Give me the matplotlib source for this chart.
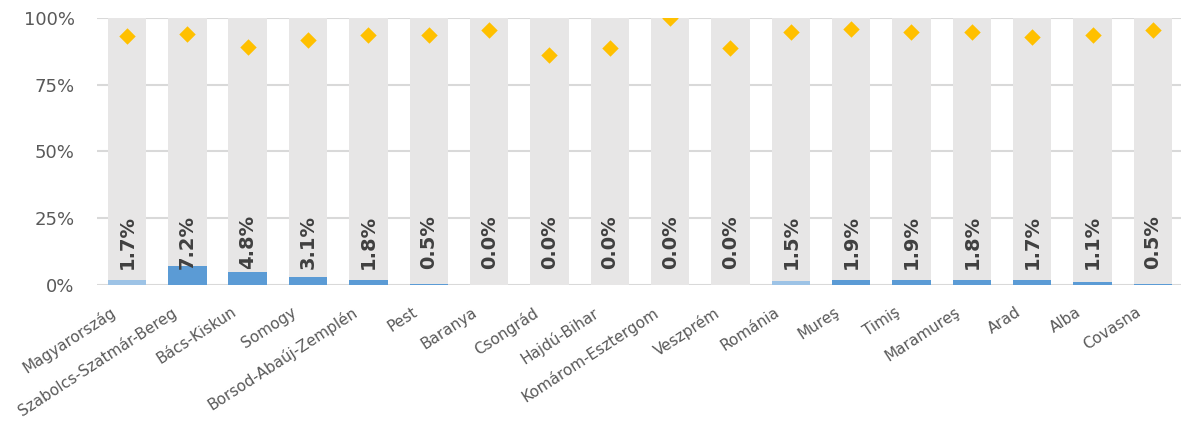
import matplotlib.pyplot as plt
import matplotlib.transforms as mtransforms
import numpy as np

counties = ["Magyarország", "Szabolcs-Szatmár-Bereg", "Bács-Kiskun", "Somogy",
            "Borsod-Abaúj-Zemplén", "Pest", "Baranya", "Csongrád", "Hajdú-Bihar",
            "Komárom-Esztergom", "Veszprém", "Románia", "Mureş", "Timiş",
            "Maramureş", "Arad", "Alba", "Covasna"]
share = [1.7, 7.2, 4.8, 3.1, 1.8, 0.5, 0.0, 0.0, 0.0, 0.0, 0.0,
         1.5, 1.9, 1.9, 1.8, 1.7, 1.1, 0.5]
marker_vals = [93.3, 94.0, 89.3, 91.8, 93.6, 93.6, 95.5, 86.0, 88.8, 100.0, 88.8,
               94.8, 95.9, 94.8, 94.8, 92.9, 93.6, 95.5]
country_rows = ["Magyarország", "Románia"]

fig = plt.figure(figsize=(11.81, 4.26), dpi=100)
ax = fig.add_axes([0.0821, 0.331, 0.9196, 0.6268])

x = np.arange(len(counties))
colors = ['#9DC3E6' if c in country_rows else '#5B9BD5' for c in counties]

ax.bar(x, [100] * len(x), width=0.64, color='#E7E6E6', zorder=2)
ax.bar(x, share, width=0.64, color=colors, zorder=3)
ax.scatter(x, marker_vals, marker='D', s=70, color='#FFC000', zorder=4, linewidths=0)

for xi, v in zip(x, share):
    ax.text(xi, 6, f"{v:.1f}%", rotation=90, ha='center', va='bottom',
            fontsize=14, fontweight='bold', color='#404040', zorder=5)

ax.set_xlim(-0.5, len(x) - 0.5)
ax.set_ylim(0, 100)
ax.set_yticks([0, 25, 50, 75, 100])
ax.set_yticklabels(["0%", "25%", "50%", "75%", "100%"], fontsize=13, color='#595959')
ax.yaxis.grid(True, color='#D9D9D9', linewidth=1.5, zorder=1)
ax.set_axisbelow(True)
ax.tick_params(axis='both', length=0)
ax.tick_params(axis='y', pad=16)

ax.set_xticks(x)
ax.set_xticklabels(counties, rotation=33, ha='right', rotation_mode='anchor',
                   fontsize=11, color='#595959')
ax.tick_params(axis='x', pad=14)
shift = mtransforms.ScaledTranslation(-17 / 100, 0, fig.dpi_scale_trans)
for lbl in ax.get_xticklabels():
    lbl.set_transform(lbl.get_transform() + shift)

for s in ax.spines.values():
    s.set_visible(False)

plt.savefig("out.png", dpi=100)
